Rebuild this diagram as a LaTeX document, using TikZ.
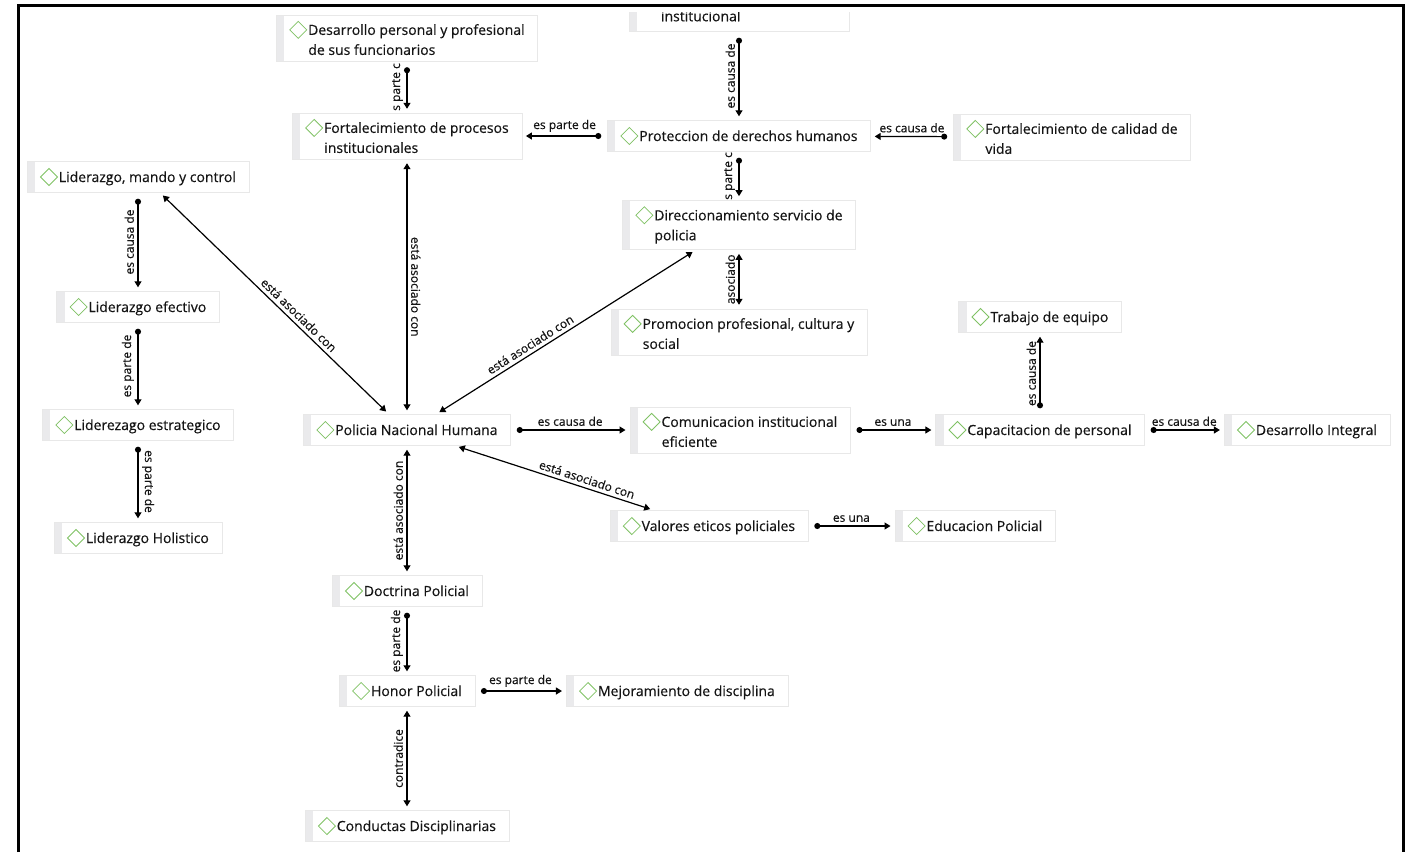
\documentclass[tikz,border=0pt]{standalone}
\usepackage{fontspec}
\setmainfont{Open Sans}[FakeBold=0.35]
\usepackage{xcolor}
\usetikzlibrary{arrows.meta}

\definecolor{diagreen}{RGB}{128,194,100}
\definecolor{stripgray}{RGB}{234,234,236}
\definecolor{inkgray}{RGB}{20,20,20}
\newcommand{\ctxt}{\fontsize{14}{20}\selectfont}
\newcommand{\ltxt}{\fontsize{12}{14}\selectfont}
\newcommand{\dmd}{\tikz[baseline={(0pt,-5pt)}]\draw[diagreen, line width=0.8pt] (0pt,0pt) -- (8.5pt,8.5pt) -- (17pt,0pt) -- (8.5pt,-8.5pt) -- cycle;\hspace{1pt}}
\newcommand{\ind}{\hspace*{19pt}}

\begin{document}
\begin{tikzpicture}[x=1pt, y=-1pt]
    \tikzstyle{concept} = [rectangle, draw=black!9, fill=white, align=left, inner xsep=13pt, inner ysep=6pt, minimum height=31pt, text=inkgray, font=\ctxt, path picture={\fill[stripgray] (path picture bounding box.north west) rectangle ([xshift=8pt]path picture bounding box.south west);}]
    \tikzstyle{rel} = [{Circle[length=6pt]}-{Triangle[length=6pt, width=7pt]}, line width=1.2pt, shorten <=6pt, shorten >=4pt]
    \tikzstyle{assoc} = [{Triangle[length=6pt, width=7pt]}-{Triangle[length=6pt, width=7pt]}, line width=1.2pt, shorten <=4pt, shorten >=4pt]
    \tikzstyle{lbl} = [font=\ltxt, text=inkgray, inner sep=3.5pt]

    \useasboundingbox (0,0) rectangle (1413,852);
    \fill[white] (0,0) rectangle (1413,852);
    \draw[line width=3pt] (18,852) -- (18,5) -- (1403,5) -- (1403,852);

    % Liderazgo
    \node [concept] (lmando) at (138,177) {\dmd Liderazgo, mando y control};
    \node [concept] (lefect) at (138,307) {\dmd Liderazgo efectivo};
    \node [concept] (lestrat) at (138,425) {\dmd Liderezago estrategico};
    \node [concept] (lholis) at (138,538) {\dmd Liderazgo Holistico};

    % Centro
    \node [concept] (desarr) at (407,38) {\dmd Desarrollo personal y profesional\\\ind de sus funcionarios};
    \node [concept] (fproc) at (407,136) {\dmd Fortalecimiento de procesos\\\ind institucionales};
    \node [concept] (pnh) at (407,430) {\dmd Policia Nacional Humana};
    \node [concept] (doctr) at (407,591) {\dmd Doctrina Policial};
    \node [concept] (honor) at (407,691) {\dmd Honor Policial};
    \node [concept] (conduct) at (407,826) {\dmd Conductas Disciplinarias};

    % Derechos humanos
    \begin{scope}
        \clip (0,12) rectangle (1413,852);
        \node [concept, text width=194pt] (instit) at (739,16) {\ind institucional};
    \end{scope}
    \node [concept] (prot) at (739,136) {\dmd Proteccion de derechos humanos};
    \node [concept] (calid) at (1072,137) {\dmd Fortalecimiento de calidad de\\\ind vida};
    \node [concept] (direcc) at (739,225) {\dmd Direccionamiento servicio de\\\ind policia};
    \node [concept] (promo) at (739,332) {\dmd Promocion profesional, cultura y\\\ind social};

    % Derecha
    \node [concept] (comun) at (740,430) {\dmd Comunicacion institucional\\\ind eficiente};
    \node [concept] (capac) at (1040,430) {\dmd Capacitacion de personal};
    \node [concept] (trabajo) at (1040,317) {\dmd Trabajo de equipo};
    \node [concept] (dinteg) at (1307,430) {\dmd Desarrollo Integral};
    \node [concept] (valores) at (709,526) {\dmd Valores eticos policiales};
    \node [concept] (educ) at (975,526) {\dmd Educacion Policial};
    \node [concept] (mejor) at (677,691) {\dmd Mejoramiento de disciplina};

    % Relaciones
    \draw [rel] (desarr) -- (fproc) node [lbl, midway, rotate=90, anchor=south] {s parte c};
    \draw [rel] (instit) -- (prot) node [lbl, midway, rotate=90, anchor=south] {es causa de};
    \draw [rel] (prot) -- (fproc) node [lbl, midway, above] {es parte de};
    \draw [rel] (calid) -- (prot) node [lbl, midway, above] {es causa de};
    \draw [rel] (prot) -- (direcc) node [lbl, midway, rotate=90, anchor=south] {s parte c};
    \draw [assoc] (direcc) -- (promo) node [lbl, midway, rotate=90, anchor=south] {asociado};

    \draw [rel] (lmando) -- (lefect) node [lbl, midway, rotate=90, anchor=south] {es causa de};
    \draw [rel] (lefect) -- (lestrat) node [lbl, midway, rotate=90, anchor=south] {es parte de};
    \draw [rel] (lestrat) -- (lholis) node [lbl, midway, rotate=-90, anchor=south] {es parte de};

    \draw [assoc] ([xshift=22pt]lmando.south) -- ([xshift=-18pt]pnh.north) node [lbl, pos=0.58, sloped, above] {está asociado con};
    \draw [assoc] (pnh) -- (fproc) node [lbl, midway, rotate=-90, anchor=south] {está asociado con};
    \draw [assoc] ([xshift=29pt]pnh.north) -- ([xshift=-43pt]direcc.south) node [lbl, pos=0.38, sloped, above] {está asociado con};
    \draw [assoc] ([xshift=48pt]pnh.south) -- ([xshift=-55pt]valores.north) node [lbl, pos=0.65, sloped, above] {está asociado con};
    \draw [assoc] (pnh) -- (doctr) node [lbl, midway, rotate=90, anchor=south] {está asociado con};
    \draw [rel] (pnh) -- (comun) node [lbl, midway, above] {es causa de};

    \draw [rel] (comun) -- (capac) node [lbl, midway, above] {es una};
    \draw [rel] (capac) -- (trabajo) node [lbl, midway, rotate=90, anchor=south] {es causa de};
    \draw [rel] (capac) -- (dinteg) node [lbl, midway, above] {es causa de};
    \draw [rel] (valores) -- (educ) node [lbl, midway, above] {es una};

    \draw [rel] (doctr) -- (honor) node [lbl, midway, rotate=90, anchor=south] {es parte de};
    \draw [rel] (honor) -- (mejor) node [lbl, midway, above] {es parte de};
    \draw [assoc] (honor) -- (conduct) node [lbl, midway, rotate=90, anchor=south] {contradice};
\end{tikzpicture}
\end{document}
